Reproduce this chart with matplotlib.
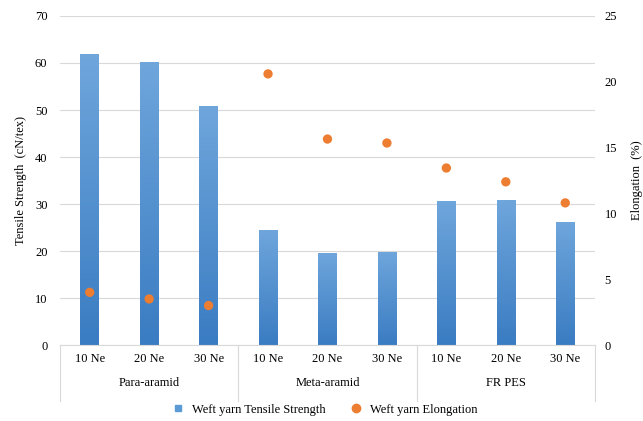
import numpy as np
import matplotlib
matplotlib.use("Agg")
import matplotlib.pyplot as plt
from matplotlib.lines import Line2D

plt.rcParams['font.family'] = ['Liberation Serif', 'DejaVu Serif']

# data
groups = ["Para-aramid", "Meta-aramid", "FR PES"]
counts = ["10 Ne", "20 Ne", "30 Ne"]
tensile = [61.9, 60.2, 50.9, 24.5, 19.6, 19.8, 30.6, 30.9, 26.2]
elongation = [4.0, 3.5, 3.0, 20.6, 15.65, 15.35, 13.45, 12.4, 10.8]

n = len(tensile)
x = np.arange(n)

fig = plt.figure(figsize=(6.43, 4.21), dpi=100)
ax = fig.add_axes([0.0933, 0.1805, 0.832, 0.7815])
ax2 = ax.twinx()

grid_c = "#d9d9d9"
ax.set_ylim(0, 70)
ax.set_yticks(range(0, 71, 10))
ax2.set_ylim(0, 25)
ax2.set_yticks(range(0, 26, 5))
ax.set_xlim(-0.5, n - 0.5)
ax.yaxis.grid(True, color=grid_c, lw=0.8)
ax.set_axisbelow(True)

bars = ax.bar(x, tensile, width=0.31, color="#5b9bd5", zorder=2)
# vertical gradient on each bar (lighter on top)
grad = np.linspace(0, 1, 256).reshape(-1, 1)
cmap = matplotlib.colors.LinearSegmentedColormap.from_list("b", ["#3a7cc2", "#6fa6dc"])
for b in bars:
    bx, by = b.get_x(), b.get_y()
    w, h = b.get_width(), b.get_height()
    im = ax.imshow(grad, extent=[bx, bx + w, by, by + h], origin="lower",
                   aspect="auto", cmap=cmap, zorder=2.5)
    im.set_clip_path(b)
ax.set_xlim(-0.5, n - 0.5)
ax.set_ylim(0, 70)

ax2.scatter(x, elongation, s=45, color="#ed7d31", zorder=3, edgecolors="none")

for a in (ax, ax2):
    for s in a.spines.values():
        s.set_visible(False)
    a.tick_params(length=0, labelsize=9)
ax.spines["bottom"].set_visible(True)
ax.spines["bottom"].set_color(grid_c)
ax.tick_params(axis="y", pad=9)
ax2.tick_params(axis="y", pad=7)

ax.set_xticks(x)
ax.set_xticklabels(counts * len(groups), fontsize=9)
ax.tick_params(axis="x", pad=6)

# group labels and separators under the axis
trans = ax.get_xaxis_transform()
for i, g in enumerate(groups):
    ax.text(i * 3 + 1, -0.115, g, transform=trans, ha="center", va="center", fontsize=9)
for k in range(len(groups) + 1):
    ax.plot([k * 3 - 0.5] * 2, [0, -0.17], transform=trans, color=grid_c,
            lw=0.8, clip_on=False)

ax.set_ylabel("Tensile Strength  (cN/tex)", fontsize=9, labelpad=6)
ax2.set_ylabel("Elongation  (%)", fontsize=9, labelpad=10)

handles = [
    Line2D([], [], marker="s", ls="none", color="#5b9bd5", markersize=5),
    Line2D([], [], marker="o", ls="none", color="#ed7d31", markersize=6),
]
fig.legend(handles, ["Weft yarn Tensile Strength", "Weft yarn Elongation"],
           loc="center", bbox_to_anchor=(0.5, 0.027), ncol=2, frameon=False,
           fontsize=9, handletextpad=0.05, columnspacing=1.5)

fig.savefig("out.png", dpi=100, facecolor="white")
